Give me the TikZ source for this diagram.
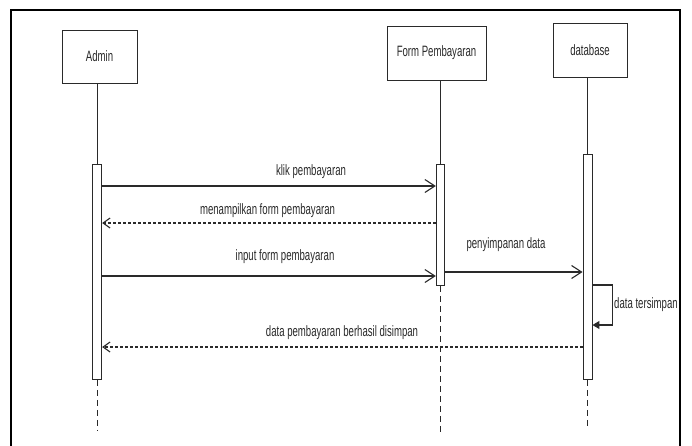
\documentclass[tikz,border=0pt]{standalone}
\usepackage{fontspec}
\setmainfont[FakeStretch=0.64]{Liberation Sans}
\usetikzlibrary{arrows.meta}
\definecolor{ink}{HTML}{2A2A2A}
\tikzset{
  actor/.style={draw=ink, line width=1pt, fill=white, inner sep=0pt},
  actbar/.style={draw=ink, line width=0.9pt, fill=white, minimum width=9pt, inner sep=0pt},
  life/.style={draw=ink, line width=0.8pt},
  lifedash/.style={draw=ink, line width=0.8pt, dash pattern=on 6pt off 4pt},
  msg/.style={draw=ink, line width=1.1pt, -{Straight Barb[length=10pt,width=13pt,line width=1.1pt]}},
  reply/.style={draw=ink, line width=1.1pt, dash pattern=on 3pt off 2pt, -{Straight Barb[length=7pt,width=10pt,line width=1.1pt]}},
  selfmsg/.style={draw=ink, line width=1.1pt, -{Triangle[length=7pt,width=8pt]}},
  lbl/.style={text=ink, inner sep=0pt, font=\fontsize{15}{18}\selectfont},
}
\begin{document}
\begin{tikzpicture}[x=1pt, y=-1pt]
  \useasboundingbox (0,0) rectangle (692,445);
  \fill[white] (0,0) rectangle (692,445);

  % outer frame
  \draw[black, line width=2.5pt] (11,447) -- (11,10) -- (680,10) -- (680,447);

  % participants
  \node[actor, minimum width=75pt, minimum height=53pt] (a) at (99.5,56.5) {};
  \node[lbl] (al) at (a.center) {Admin};
  \node[actor, minimum width=99pt, minimum height=54pt] (f) at (436.5,53) {};
  \node[lbl] (fl) at (f.center) {Form Pembayaran};
  \node[actor, minimum width=74pt, minimum height=54pt] (d) at (590,50) {};
  \node[lbl] (dl) at (d.center) {database};

  % activation bars
  \node[actbar, minimum height=215pt, anchor=north] (aa) at (97.2,164) {};
  \node[actbar, minimum width=8pt, minimum height=121pt, anchor=north] (fa) at (440.3,164) {};
  \node[actbar, minimum height=225pt, anchor=north] (da) at (587.5,154) {};

  % lifelines
  \draw[life] (aa.north) -- (aa.north |- a.south);
  \draw[life] (fa.north) -- (fa.north |- f.south);
  \draw[life] (da.north) -- (da.north |- d.south);
  \coordinate (ae) at (97.2,430);
  \coordinate (fe) at (440.3,433);
  \coordinate (de) at (587.5,429);
  \draw[lifedash] (aa.south) -- (ae);
  \draw[lifedash] (fa.south) -- (fe);
  \draw[lifedash] (da.south) -- (de);

  % messages
  \coordinate (m1) at (0,186);
  \coordinate (m2) at (0,223);
  \coordinate (m3) at (0,276);
  \coordinate (m4) at (0,272);
  \coordinate (m5) at (0,285);
  \coordinate (m6) at (0,325);
  \coordinate (m7) at (0,347);

  \draw[msg] (aa.east |- m1) -- (fa.west |- m1);
  \node[lbl] (l1) at (311,172) {klik pembayaran};

  \draw[reply] (fa.west |- m2) -- (aa.east |- m2);
  \node[lbl] (l2) at (267.5,211) {menampilkan form pembayaran};

  \draw[msg] (aa.east |- m3) -- (fa.west |- m3);
  \node[lbl] (l3) at (285,257) {input form pembayaran};

  \draw[msg] (fa.east |- m4) -- (da.west |- m4);
  \node[lbl] (l4) at (506,245) {penyimpanan data};

  \draw[selfmsg] (da.east |- m5) -- ++(20,0) |- (da.east |- m6);
  \node[lbl, anchor=west] (l5) at (614,305) {data tersimpan};

  \draw[reply] (da.west |- m7) -- (aa.east |- m7);
  \node[lbl] (l6) at (342,333) {data pembayaran berhasil disimpan};
\end{tikzpicture}
\end{document}
